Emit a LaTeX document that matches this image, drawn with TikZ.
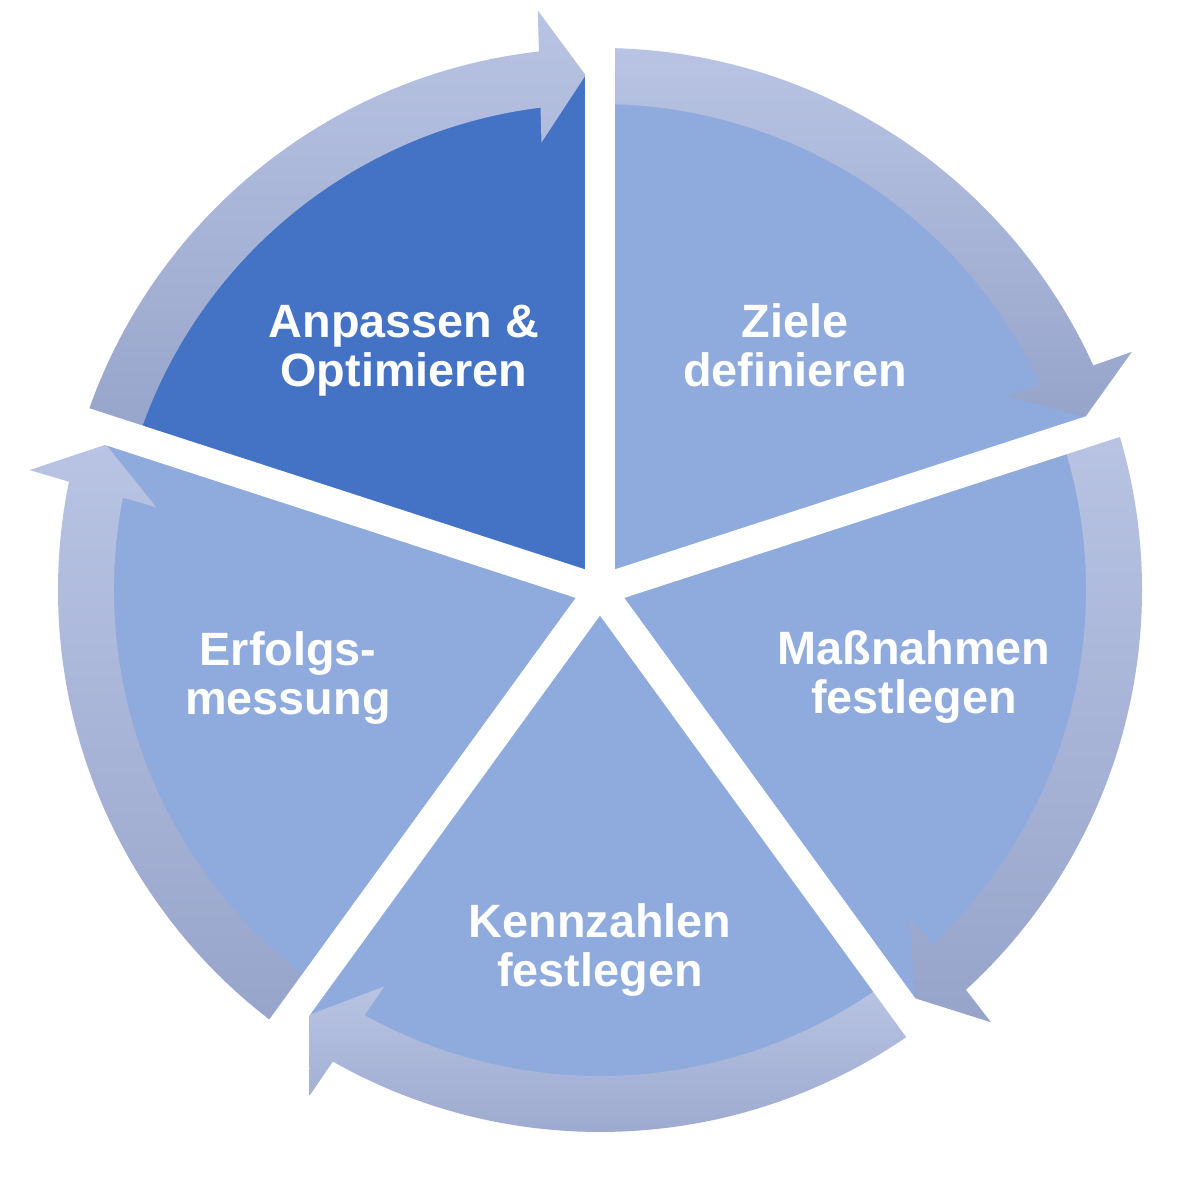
\documentclass[tikz,border=0pt]{standalone}
\usepackage{fontspec}
\setmainfont{Liberation Sans}
\usepackage{tikz}
\usetikzlibrary{calc}
\usepackage{xcolor}
\definecolor{darkslice}{HTML}{4472C4}
\definecolor{lightslice}{HTML}{8FAADC}
\definecolor{ringtop}{HTML}{B9C4E4}
\definecolor{ringbot}{HTML}{97A4CA}

\tikzset{
  phase/.style={text=white,align=center,inner sep=0pt,
    font=\bfseries\fontsize{13.3}{14}\selectfont},
  gap/.style={white,line width=0.3cm}
}

% slice from #2 to #3 (degrees), colour #1
\newcommand{\slice}[3]{%
  \fill[#1] (0,0) -- (#2:516) arc[start angle=#2,end angle=#3,radius=516] -- cycle;}

% curved arrow running clockwise from #1 to #2
\newcommand{\ringarrow}[2]{%
  \pgfmathsetmacro{\tp}{#2+1.6}%
  \pgfmathsetmacro{\tn}{#2+1.6+90}%
  \pgfmathsetmacro{\ro}{#2+1.6+4.87}%
  \pgfmathsetmacro{\ri}{#2+1.6+5.43}%
  \shade[top color=ringtop,bottom color=ringbot]
    (#1:542) arc[start angle=#1,end angle=\ro,radius=542]
    -- ($(\tp:515)+(\tn:46)+(\tp:66)$) -- (\tp:515)
    -- ($(\tp:515)+(\tn:46)+(\tp:-66)$) -- (\ri:486)
    arc[start angle=\ri,end angle=#1,radius=486] -- cycle;}

\begin{document}
\begin{tikzpicture}[x=0.01cm,y=0.01cm]
  \fill[white] (-600,-595) rectangle (600,590);
  \useasboundingbox (-600,-595) rectangle (600,590);
  % Kreissegmente
  \slice{darkslice}{90}{162}
  \slice{lightslice}{18}{90}
  \slice{lightslice}{-54}{18}
  \slice{lightslice}{-126}{-54}
  \slice{lightslice}{162}{234}
  % Ring aus Pfeilen
  \ringarrow{162}{90}
  \ringarrow{90}{18}
  \ringarrow{18}{-54}
  \ringarrow{-54}{-126}
  \ringarrow{234}{162}
  % Luecken
  \draw[gap] (0,0) -- (90:600);
  \draw[gap] (0,0) -- (18:600);
  \draw[gap] (0,0) -- (-54:600);
  \draw[gap] (0,0) -- (-126:600);
  \draw[gap] (0,0) -- (162:600);
  % Beschriftung
  \node[phase] (anpassen) at (-196,239) {Anpassen \&\\Optimieren};
  \node[phase] (ziele) at (195,245) {Ziele\\definieren};
  \node[phase] (massnahmen) at (314,-87) {Maßnahmen\\festlegen};
  \node[phase] (kennzahlen) at (0,-360) {Kennzahlen\\festlegen};
  \node[phase] (erfolg) at (-312,-88) {Erfolgs-\\messung};
\end{tikzpicture}
\end{document}
